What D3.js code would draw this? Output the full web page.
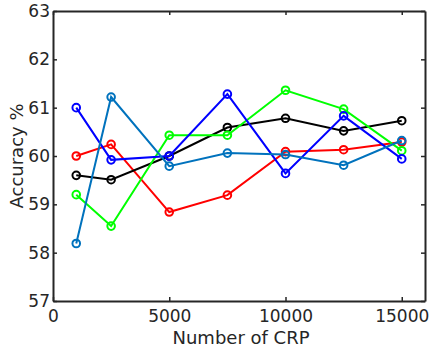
<!DOCTYPE html>
<html>
<head>
<meta charset="utf-8">
<script src="https://cdn.jsdelivr.net/npm/d3@7"></script>
<style>
  body { margin: 0; background: #fff; }
  text { font-family: "DejaVu Sans", sans-serif; fill: #262626; }
</style>
</head>
<body>
<script>
var crp = [1000, 2500, 5000, 7500, 10000, 12500, 15000];
var redVals = [60.0, 60.24, 58.84, 59.19, 60.09, 60.13, 60.29];
var blackVals = [59.6, 59.51, 60.0, 60.59, 60.78, 60.52, 60.73];
var greenVals = [59.2, 58.55, 60.43, 60.43, 61.36, 60.97, 60.11];
var blueVals = [61.0, 59.92, 60.0, 61.28, 59.64, 60.83, 59.94];
var steelVals = [58.19, 61.22, 59.79, 60.06, 60.03, 59.81, 60.32];
var seriesColors = ["#ff0000", "#000000", "#00ff00", "#0000ff", "#0072bd"];
var xTicks = [0, 5000, 10000, 15000];
var yTicks = [57, 58, 59, 60, 61, 62, 63];

var W = 432, H = 352;
var L = 53, R = 425, T = 11, B = 301;

var svg = d3.select("body").append("svg").attr("width", W).attr("height", H);

var x = d3.scaleLinear().domain([0, 16000]).range([L, R]);
var y = d3.scaleLinear().domain([57, 63]).range([B, T]);

var allSeries = [redVals, blackVals, greenVals, blueVals, steelVals];

var line = d3.line()
  .x(function(d, i) { return x(crp[i]); })
  .y(function(d) { return y(d); });

allSeries.forEach(function(vals, k) {
  svg.append("path")
    .attr("d", line(vals))
    .attr("fill", "none")
    .attr("stroke", seriesColors[k])
    .attr("stroke-width", 2);
  svg.selectAll(null).data(vals).enter().append("circle")
    .attr("cx", function(d, i) { return x(crp[i]); })
    .attr("cy", function(d) { return y(d); })
    .attr("r", 3.8)
    .attr("fill", "none")
    .attr("stroke", seriesColors[k])
    .attr("stroke-width", 2);
});

// box with inward ticks on all four sides
var fmt = d3.format("d");
var xAxis = svg.append("g").attr("transform", "translate(0," + B + ")")
  .call(d3.axisBottom(x).tickValues(xTicks).tickFormat(fmt).tickSizeInner(-4).tickSizeOuter(0).tickPadding(9));
var yAxis = svg.append("g").attr("transform", "translate(" + L + ",0)")
  .call(d3.axisLeft(y).tickValues(yTicks).tickFormat(fmt).tickSizeInner(-4).tickSizeOuter(0).tickPadding(3));
var xTop = svg.append("g").attr("transform", "translate(0," + T + ")")
  .call(d3.axisTop(x).tickValues(xTicks).tickSizeInner(-4).tickSizeOuter(0).tickFormat(""));
var yRight = svg.append("g").attr("transform", "translate(" + R + ",0)")
  .call(d3.axisRight(y).tickValues(yTicks).tickSizeInner(-4).tickSizeOuter(0).tickFormat(""));

[xAxis, yAxis, xTop, yRight].forEach(function(g) {
  g.selectAll("path").attr("stroke", "#262626").attr("stroke-width", 2);
  g.selectAll("line").attr("stroke", "#262626").attr("stroke-width", 1.5);
  g.selectAll("text").style("font-family", "DejaVu Sans, sans-serif").style("font-size", "17px").attr("fill", "#262626");
});

svg.append("text")
  .attr("x", (L + R) / 2 + 2).attr("y", 344)
  .attr("text-anchor", "middle")
  .style("font-size", "18px")
  .text("Number of CRP");

svg.append("text")
  .attr("transform", "translate(23," + ((T + B) / 2) + ") rotate(-90)")
  .attr("text-anchor", "middle")
  .style("font-size", "18px")
  .text("Accuracy %");
</script>
</body>
</html>
